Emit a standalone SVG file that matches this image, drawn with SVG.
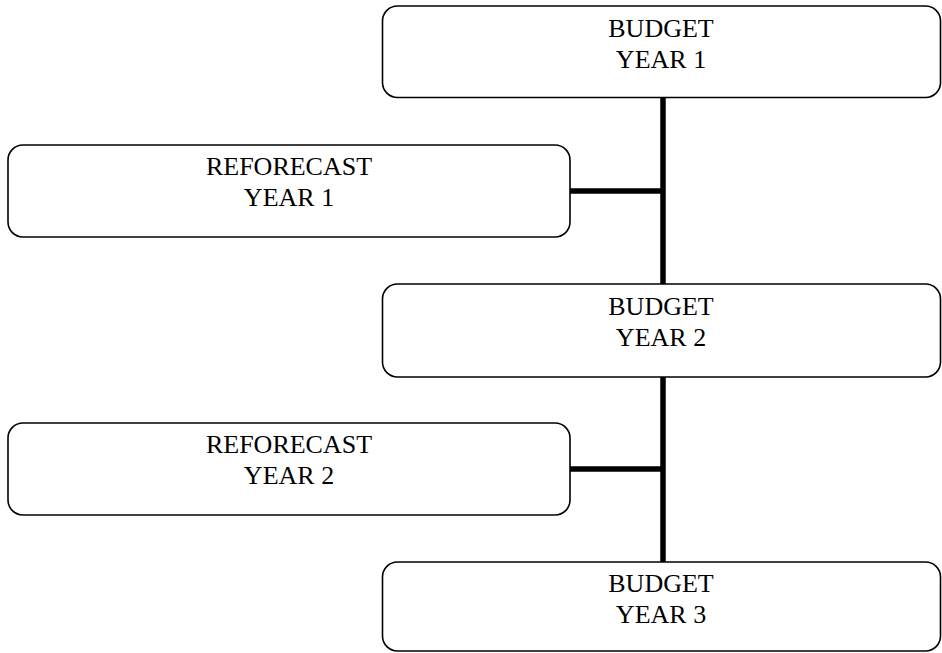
<svg xmlns="http://www.w3.org/2000/svg" width="942" height="653" viewBox="0 0 942 653">
<style>
.box{fill:#fff;stroke:#000;stroke-width:1.6}
.lbl{font-family:"Liberation Serif","Times New Roman",serif;font-size:26px;fill:#000;text-anchor:middle}
.conn{stroke:#000;stroke-width:5.5;fill:none}
</style>
<rect width="942" height="653" fill="#fff"/>
<g id="connectors">
<line class="conn" x1="663" y1="97" x2="663" y2="285"/>
<line class="conn" x1="663" y1="377" x2="663" y2="563"/>
<line class="conn" x1="570" y1="191" x2="663" y2="191"/>
<line class="conn" x1="570" y1="469" x2="663" y2="469"/>
</g>
<g id="budget1">
<rect class="box" x="382.5" y="6" width="558" height="91.5" rx="15" ry="15"/>
<text class="lbl" x="661" y="37">BUDGET</text>
<text class="lbl" x="661" y="68">YEAR 1</text>
</g>
<g id="reforecast1">
<rect class="box" x="8" y="145" width="562" height="92" rx="15" ry="15"/>
<text class="lbl" x="289" y="175">REFORECAST</text>
<text class="lbl" x="289" y="206">YEAR 1</text>
</g>
<g id="budget2">
<rect class="box" x="382.5" y="284" width="558" height="93" rx="15" ry="15"/>
<text class="lbl" x="661" y="315">BUDGET</text>
<text class="lbl" x="661" y="346">YEAR 2</text>
</g>
<g id="reforecast2">
<rect class="box" x="8" y="423" width="562" height="92" rx="15" ry="15"/>
<text class="lbl" x="289" y="453">REFORECAST</text>
<text class="lbl" x="289" y="484">YEAR 2</text>
</g>
<g id="budget3">
<rect class="box" x="382.5" y="562" width="558" height="89" rx="15" ry="15"/>
<text class="lbl" x="661" y="592">BUDGET</text>
<text class="lbl" x="661" y="623">YEAR 3</text>
</g>
</svg>
